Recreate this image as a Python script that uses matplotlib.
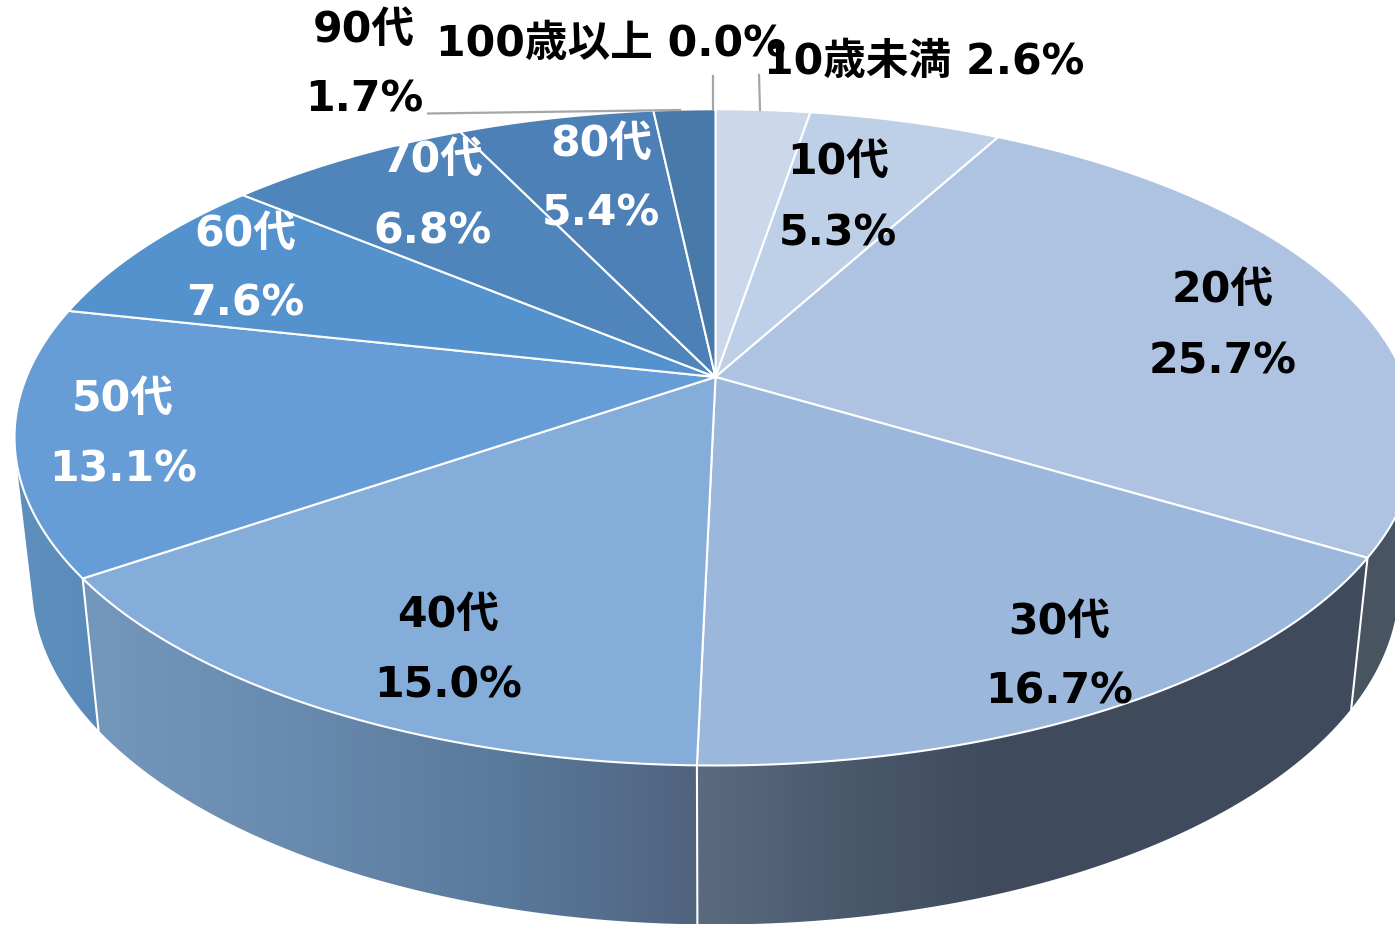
import numpy as np
import matplotlib
matplotlib.use("Agg")
import matplotlib.pyplot as plt
from matplotlib.patches import Polygon
from matplotlib.colors import LinearSegmentedColormap

categories = ["10歳未満", "10代", "20代", "30代", "40代", "50代", "60代", "70代", "80代", "90代", "100歳以上"]
values = [2.6, 5.3, 25.7, 16.7, 15.0, 13.1, 7.6, 6.8, 5.4, 1.7, 0.0]
top_colors = ["#CBD7EA", "#BDD0E8", "#AEC3E2", "#9BB8DC", "#85ADDA", "#679DD6",
              "#5492CE", "#5085BC", "#4C80B7", "#477AA9", "#477AA9"]

# Side shading: (x, colour) stops per category
side_stops = {
    "20代": [(1340, "#48545F"), (1395, "#4A5563")],
    "30代": [(698, "#5C6A80"), (850, "#4A586C"), (1000, "#3F4B5C"), (1352, "#404C5C")],
    "40代": [(85, "#7497BC"), (300, "#688AAE"), (500, "#5A7A9C"), (698, "#50637F")],
    "50代": [(15, "#5E90BE"), (98, "#5A8ABA")],
}

# Label anchors (x, first line y, second line y); single-line labels have one y
label_pos = {
    "10代": (838, 162, 233), "20代": (1223, 290, 362), "30代": (1059, 622, 692),
    "40代": (448, 615, 685), "50代": (123, 399, 469), "60代": (245, 234, 304),
    "70代": (432, 160, 232), "80代": (601, 144, 214), "90代": (364, 30, 100),
    "10歳未満": (924, 62), "100歳以上": (611, 44),
}
white_text = {"50代", "60代", "70代", "80代"}
leaders = [((760, 110), (759, 75)), ((712.5, 109), (712.5, 76)), ((680, 110), (428, 113.5))]

W, H = 1395, 925
CX, CY, A, B, K = 715.5, 377.0, 317.0, 689.0, 0.184


def top_xy(theta):
    u, v = np.sin(theta), np.cos(theta)
    w = 1 + K * v
    return CX + B * u / w, CY - A * v / w


def bottom_xy(theta):
    x, y = top_xy(theta)
    return CX + 0.975 * (x - CX), 925 + 1.038 * (y - 766)


def convex_hull(points):
    pts = sorted(set(map(tuple, np.round(points, 3))))

    def half(seq):
        out = []
        for p in seq:
            while len(out) > 1 and ((out[-1][0] - out[-2][0]) * (p[1] - out[-2][1])
                                    - (out[-1][1] - out[-2][1]) * (p[0] - out[-2][0])) <= 0:
                out.pop()
            out.append(p)
        return out[:-1]

    return np.array(half(pts) + half(pts[::-1]))


plt.rcParams["font.family"] = ["DejaVu Sans", "Noto Sans CJK JP"]
fig = plt.figure(figsize=(W / 100, H / 100), dpi=100)
ax = fig.add_axes([0, 0, 1, 1])

edges = np.cumsum([0] + values) / sum(values) * 2 * np.pi
for i in [5, 2, 4, 3]:
    cat = categories[i]
    t = np.linspace(edges[i], edges[i + 1], 200)
    poly = convex_hull(np.vstack([np.column_stack(top_xy(t)), np.column_stack(bottom_xy(t))]))
    stops = side_stops[cat]
    x0, x1 = stops[0][0], stops[-1][0]
    xmin, xmax = min(poly[:, 0].min(), x0), max(poly[:, 0].max(), x1)
    cmap = LinearSegmentedColormap.from_list(
        "s", [((x - x0) / (x1 - x0), c) for x, c in stops])
    grad = np.clip((np.linspace(xmin, xmax, 512) - x0) / (x1 - x0), 0, 1)[None, :]
    im = ax.imshow(grad, cmap=cmap, vmin=0, vmax=1, aspect="auto", zorder=1,
                   extent=(xmin, xmax, poly[:, 1].max(), poly[:, 1].min()),
                   interpolation="bilinear")
    patch = Polygon(poly, closed=True, transform=ax.transData, fc="none", ec="none")
    ax.add_patch(patch)
    im.set_clip_path(patch)

for i, cat in enumerate(categories):
    if values[i] <= 0:
        continue
    t = np.linspace(edges[i], edges[i + 1], 200)
    pts = np.vstack([[CX, CY], np.column_stack(top_xy(t))])
    ax.add_patch(Polygon(pts, closed=True, fc=top_colors[i], ec="white", lw=1.5,
                         joinstyle="round", zorder=2))

# white separators on the visible side wall
for th in edges[3:6]:
    xt, yt = top_xy(th)
    xb, yb = bottom_xy(th)
    ax.plot([xt, xb], [yt, yb], color="white", lw=1.5, zorder=3)

for p, q in leaders:
    ax.plot([p[0], q[0]], [p[1], q[1]], color="#A6A6A6", lw=1.6, zorder=4)

for cat, val in zip(categories, values):
    pos = label_pos[cat]
    color = "white" if cat in white_text else "black"
    kw = dict(ha="center", va="center", fontsize=30.7, fontweight="bold", color=color, zorder=5)
    if len(pos) == 2:
        ax.text(pos[0], pos[1], f"{cat} {val:.1f}%", **kw)
    else:
        ax.text(pos[0], pos[1], cat, **kw)
        ax.text(pos[0], pos[2], f"{val:.1f}%", **kw)

ax.set_xlim(0, W)
ax.set_ylim(H, 0)
ax.axis("off")
fig.savefig("out.png", dpi=100, facecolor="white")
